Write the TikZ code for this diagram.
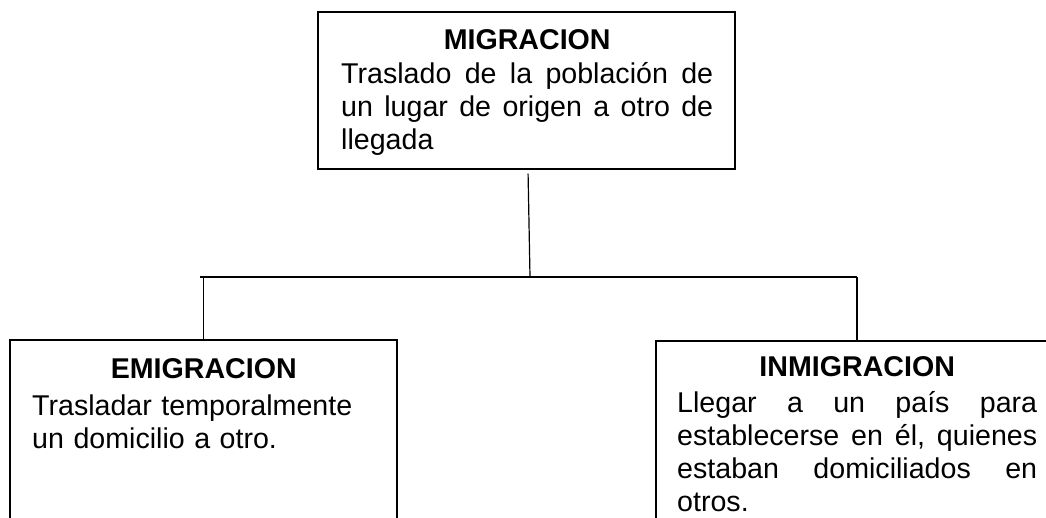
\documentclass[tikz,border=0pt]{standalone}
\usepackage{fontspec}
\setmainfont{Liberation Sans}
\usetikzlibrary{calc,positioning}
\tikzset{
    block/.style = {draw, rectangle, line width=1.4pt, inner sep=0pt},
    txt/.style = {anchor=base west, inner sep=0pt, align=center},
    line/.style = {draw, line width=1.2pt}
}
\newcommand{\boxtext}{\fontsize{28.6}{33}\selectfont}

\begin{document}
\begin{tikzpicture}[x=1pt, y=-1pt]
        \useasboundingbox (0,0) rectangle (1046,517);
        \fill[white] (0,0) rectangle (1046,517);
        \clip (0,0) rectangle (1046,517);
        % boxes
        \node [block, minimum width=417pt, minimum height=157pt] (migracion) at (526.5,90.5) {};
        \node [block, minimum width=387pt, minimum height=220pt] (emigracion) at (203.5,450) {};
        \node [block, minimum width=402pt, minimum height=220pt] (inmigracion) at (857,451) {};
        % texts
        \node [txt, text width=372pt, font=\boxtext] (migtxt) at (341,49) {%
            \textbf{MIGRACION}\\[1pt]
            \makebox[372pt]{Traslado \hfill de \hfill la \hfill población \hfill de}\\
            \makebox[372pt]{un \hfill lugar \hfill de \hfill origen \hfill a \hfill otro \hfill de}\\
            \makebox[372pt][l]{llegada}};
        \node [txt, text width=343pt, font=\boxtext] (emitxt) at (32,378) {%
            \textbf{EMIGRACION}\\[4pt]
            \makebox[343pt][l]{Trasladar temporalmente}\\
            \makebox[343pt][l]{un domicilio a otro.}};
        \node [txt, text width=360pt, font=\boxtext] (inmtxt) at (677,376) {%
            \textbf{INMIGRACION}\\[3pt]
            \makebox[360pt]{Llegar \hfill a \hfill un \hfill país \hfill para}\\
            \makebox[360pt]{establecerse \hfill en \hfill él, \hfill quienes}\\
            \makebox[360pt]{estaban \hfill domiciliados \hfill en}\\
            \makebox[360pt][l]{otros.}};
        % connectors
        \coordinate (split) at (530,277);
        \coordinate (hleft) at (200,277);
        \coordinate (hright) at (inmigracion.north |- split);
        \draw [line, shorten <=4pt] ([xshift=1.5pt]migracion.south) -- (split);
        \draw [line] (hleft) -- (hright);
        \draw [line] (emigracion.north |- split) -- (emigracion.north);
        \draw [line] (hright) -- (inmigracion.north);
\end{tikzpicture}
\end{document}
